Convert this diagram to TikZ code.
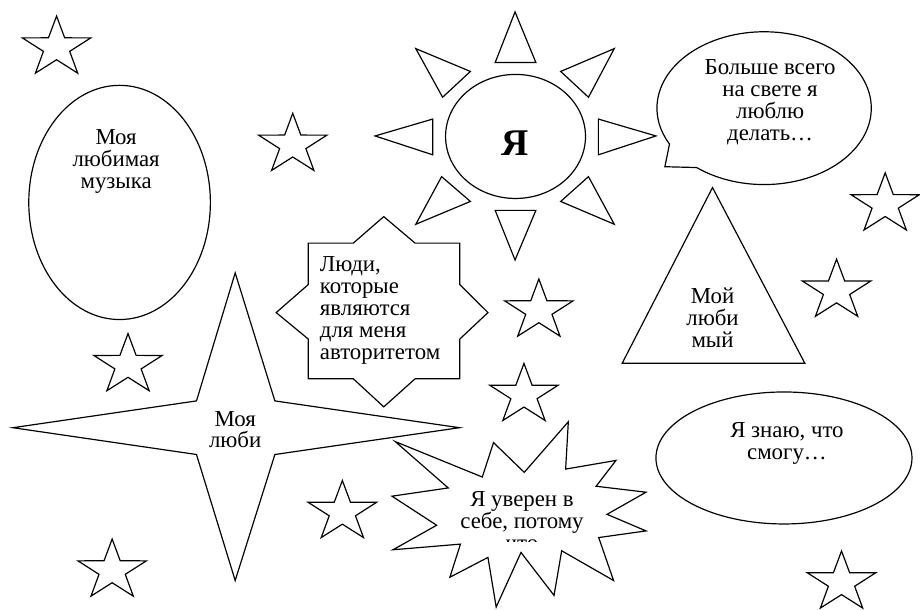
\documentclass[tikz,border=0pt]{standalone}
\usepackage{fontspec}
\setmainfont{Liberation Serif}
\tikzset{
  outline/.style={line width=0.6pt, line join=miter},
  txt/.style={font=\fontsize{11.5}{11}\selectfont, align=center, inner sep=0pt},
}

\begin{document}
\begin{tikzpicture}[x=0.5pt, y=-0.5pt]
	\fill[white] (0,0) rectangle (920,614);
	% sun with rays
	\draw[outline] (519.5,137.5) ellipse [x radius=35.25pt, y radius=31.25pt];
	\node[font=\fontsize{19}{20}\selectfont\bfseries, inner sep=0pt] (me) at (519,144) {Я};
	\draw[outline] (519,12) -- (540,63) -- (499,63) -- cycle;
	\draw[outline] (519,262) -- (540,212) -- (499,212) -- cycle;
	\draw[outline] (378,137) -- (436,120) -- (436,156) -- cycle;
	\draw[outline] (661,137) -- (603,120) -- (603,156) -- cycle;
	\draw[outline] (419,49) -- (474,72) -- (446,98) -- cycle;
	\draw[outline] (619,49) -- (565,72) -- (593,98) -- cycle;
	\draw[outline] (419,226) -- (474,203) -- (445,178) -- cycle;
	\draw[outline] (619,226) -- (565,203) -- (593,178) -- cycle;
	% speech bubble
	\draw[outline] plot[domain=152:489, samples=120] ({770+108*cos(\x)}, {109+77*sin(\x)}) -- (670,168) -- cycle;
	\node[txt] (liketxt) at (776,103) {Больше всего\\на свете я\\люблю\\делать…};
	% music oval
	\draw[outline] (120.5,204) ellipse [x radius=45.75pt, y radius=59pt];
	\node[txt] (musictxt) at (117,163) {Моя\\любимая\\музыка};
	% eight-point star
	\draw[outline] (386.7,218.3) -- (418.3,245) -- (463.3,245) -- (463.3,286.7) -- (491.7,315)
		-- (463.3,341.7) -- (463.3,381.7) -- (418.3,381.7) -- (386.7,410) -- (356,381.7)
		-- (310.7,381.7) -- (310.7,341.7) -- (278.3,315) -- (310.7,286.7) -- (310.7,245)
		-- (356,245) -- cycle;
	\node[txt, align=left, anchor=west] (peopletxt) at (322,313) {Люди,\\которые\\являются\\для меня\\авторитетом};
	% four-point star
	\draw[outline] (237,275) -- (277,404) -- (463,431) -- (277,458) -- (237,585)
		-- (198,458) -- (13,431) -- (198,404) -- cycle;
	\node[txt] (dreamtxt) at (237,433) {Моя\\люби};
	% triangle
	\draw[outline] (718,189) -- (811,366) -- (627,366) -- cycle;
	\node[txt] (herotxt) at (718,320) {Мой\\люби\\мый};
	% oval bottom right
	\draw[outline] (790,461.5) ellipse [x radius=64.5pt, y radius=33.25pt];
	\node[txt] (cantxt) at (793,447) {Я знаю, что\\смогу…};
	% burst
	\draw[outline] (398.3,445) -- (486,480.7) -- (497.3,446) -- (528.3,476) -- (572.7,425)
		-- (570,472.7) -- (620.7,464) -- (600.7,490) -- (651,496) -- (611.7,518.3)
		-- (651,535) -- (603.3,541.7) -- (618.3,585) -- (566,555) -- (558.3,600)
		-- (525,556.7) -- (500,611.7) -- (491.7,561.7) -- (453.3,581.7) -- (464,548.3)
		-- (396,554) -- (440,529.3) -- (395,500) -- (451.7,491.7) -- cycle;
	\begin{scope}
		\clip (400,480) rectangle (650,545.5);
		\node[txt] (suretxt) at (526,525) {Я уверен в\\себе, потому\\что};
	\end{scope}
	% small stars
	\foreach \sx/\sy in {57/48, 295/146, 892/206, 843/293, 543/313, 528/398, 129/368, 345/516, 113/575, 848/587}
		\draw[outline, shift={(\sx,\sy)}, xscale=1.14] (-90:31.8) -- (-126:12.2) -- (-162:31.8)
			-- (-198:12.2) -- (-234:31.8) -- (-270:12.2) -- (-306:31.8) -- (-342:12.2)
			-- (-18:31.8) -- (-54:12.2) -- cycle;
\end{tikzpicture}
\end{document}
